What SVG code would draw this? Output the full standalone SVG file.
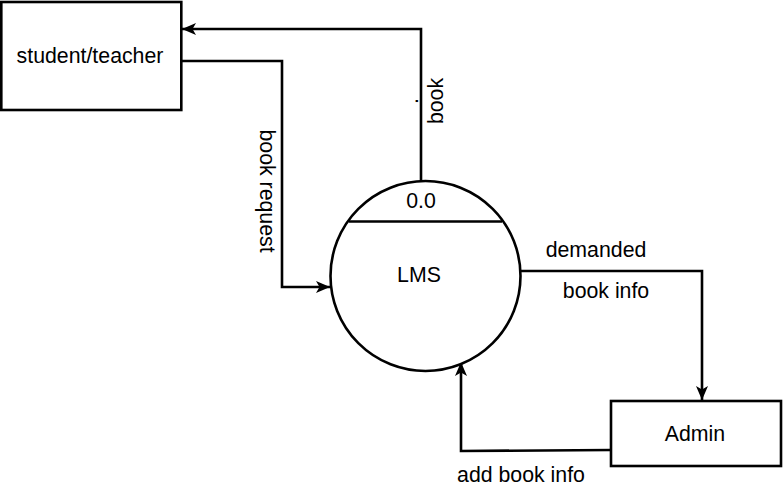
<svg xmlns="http://www.w3.org/2000/svg" width="783" height="495" viewBox="0 0 783 495">
<style>
.box{fill:#fff;stroke:#000;stroke-width:2.6}
.ln{fill:none;stroke:#000;stroke-width:2.6}
text{font-family:"Liberation Sans",Arial,sans-serif;font-size:21.3px;fill:#000}
.c{text-anchor:middle}
</style>
<defs>
<marker id="arr" viewBox="0 0 14 12" refX="14" refY="6" markerWidth="14" markerHeight="12" orient="auto" markerUnits="userSpaceOnUse">
<path d="M0,0 L14,6 L0,12 L3.5,6 Z" fill="#000"/>
</marker>
</defs>
<rect width="783" height="495" fill="#fff"/>
<g id="connectors">
<polyline class="ln" points="421,181 421,29 182,29" marker-end="url(#arr)"/>
<polyline class="ln" points="181,61 282,61 282,287 330,287" marker-end="url(#arr)"/>
<polyline class="ln" points="520,271 702,271 702,400" marker-end="url(#arr)"/>
<polyline class="ln" points="611,450 461,451 461,362" marker-end="url(#arr)"/>
<text class="c" transform="translate(443,101) rotate(-90)">book</text>
<text class="c" transform="translate(418,101) rotate(-90)" font-size="14">.</text>
<text class="c" transform="translate(260,191) rotate(90)">book request</text>
<text class="c" x="596" y="257">demanded</text>
<text class="c" x="606" y="298">book info</text>
<text class="c" x="521" y="482">add book info</text>
</g>
<g id="student-teacher">
<rect class="box" x="1.3" y="2" width="180" height="108"/>
<text class="c" x="90" y="63">student/teacher</text>
</g>
<g id="lms">
<circle class="box" cx="425.5" cy="276" r="95"/>
<line class="ln" x1="349" y1="221.5" x2="502" y2="221.5"/>
<text class="c" x="421" y="208">0.0</text>
<text class="c" x="419" y="282">LMS</text>
</g>
<g id="admin">
<rect class="box" x="611" y="401" width="170" height="65"/>
<text class="c" x="695" y="441">Admin</text>
</g>
</svg>
